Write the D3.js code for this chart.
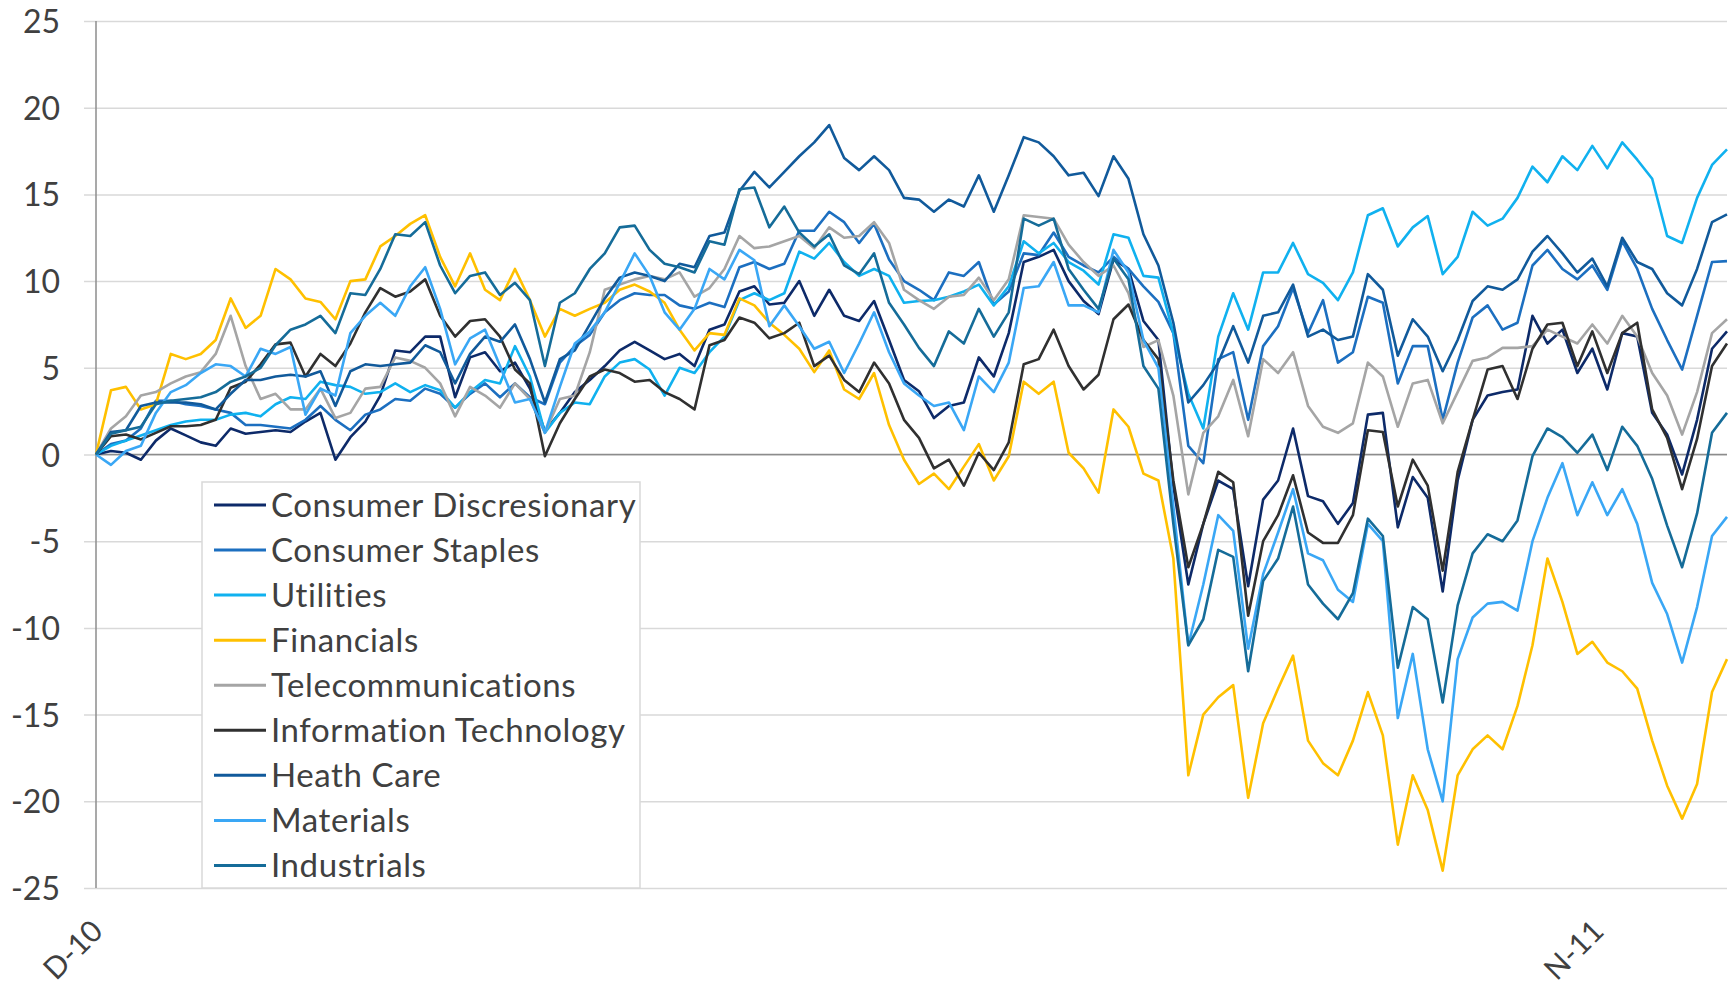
<!DOCTYPE html>
<html>
<head>
<meta charset="utf-8">
<script src="https://cdn.jsdelivr.net/npm/d3@7"></script>
<style>
	body { margin: 0; background: #fff; }
	svg text { font-family: Lato, "Open Sans", sans-serif; fill: #404040; }
</style>
</head>
<body>
<svg id="chart" width="1730" height="989"></svg>
<script>
const Width = 1730;
const Height = 989;

// first and last day of the series, points are spread evenly between them
const startDate = new Date(2010, 11, 1);
const endDate = new Date(2011, 10, 30);
const tickDates = [new Date(2010, 11, 1), new Date(2011, 10, 1)];
const tickLabels = ["D-10", "N-11"];
const yTicks = [-25, -20, -15, -10, -5, 0, 5, 10, 15, 20, 25];

const names = ["Consumer Discresionary", "Consumer Staples", "Utilities", "Financials", "Telecommunications", "Information Technology", "Heath Care", "Materials", "Industrials"];
const colors = ["#0d2a69", "#1c6fc0", "#10b1ef", "#ffc000", "#a5a5a5", "#303030", "#115a9b", "#3aa7f5", "#156c99"];

const consumerDiscretionary = [0, 0.2, 0.1, -0.3, 0.8, 1.5, 1.1, 0.7, 0.5, 1.5, 1.2, 1.3, 1.4, 1.3, 1.9, 2.4, -0.3, 1.0, 1.9, 3.4, 6.0, 5.9, 6.8, 6.8, 3.3, 5.6,
	5.9, 4.8, 5.3, 3.8, 1.35, 2.4, 3.6, 4.3, 5.1, 6.0, 6.5, 6.0, 5.5, 5.8, 5.1, 7.2, 7.5, 9.4, 9.7, 8.65, 8.75, 10.0, 8.0,
	9.5, 8.0, 7.7, 8.85, 6.6, 4.3, 3.65, 2.1, 2.8, 3.0, 5.6, 4.5, 7.0, 11.1, 11.4, 11.8, 10.0, 8.85, 8.1, 11.25, 10.7, 7.7, 6.6,
	-1.8, -7.5, -4.0, -1.5, -2.0, -7.6, -2.6, -1.5, 1.5, -2.4, -2.7, -4.0, -2.8, 2.3, 2.4, -4.2, -1.3, -2.5, -7.9,
	-1.5, 2.0, 3.4, 3.6, 3.75, 8.0, 6.4, 7.2, 4.7, 6.1, 3.75, 7.0, 6.8, 2.4, 1.15, -1.15, 2.0, 6.1, 7.1];
const consumerStaples = [0, 0.6, 0.8, 1.5, 3.1, 3.1, 2.9, 2.8, 2.6, 2.4, 1.7, 1.7, 1.6, 1.5, 2.0, 2.8, 2.0, 1.4, 2.3, 2.6, 3.2, 3.1, 3.8, 3.5, 2.7, 3.5,
	4.1, 3.3, 4.1, 3.3, 2.9, 5.3, 6.25, 6.9, 8.2, 8.9, 9.3, 9.2, 9.2, 8.6, 8.4, 8.75, 8.5, 10.8, 11.1, 10.7, 11.0, 12.9, 12.9,
	14.0, 13.4, 12.2, 13.3, 11.25, 10.0, 9.5, 8.9, 10.5, 10.3, 11.1, 8.65, 9.4, 11.6, 11.5, 12.8, 11.4, 10.9, 10.5, 11.4, 10.7, 9.7, 8.8,
	7.0, 0.5, -0.5, 5.5, 5.9, 2.0, 6.25, 7.4, 9.6, 7.0, 8.9, 5.3, 5.9, 9.1, 8.75, 4.1, 6.25, 6.25, 2.0,
	5.3, 7.9, 8.6, 7.2, 7.6, 10.9, 11.8, 10.7, 10.1, 10.9, 9.5, 12.3, 10.7, 8.4, 6.6, 4.9, 8.0, 11.1, 11.15];
const utilities = [0, 0.5, 0.8, 1.1, 1.4, 1.7, 1.9, 2.0, 2.0, 2.3, 2.4, 2.2, 2.9, 3.3, 3.2, 4.2, 4.0, 3.9, 3.5, 3.6, 4.1, 3.6, 4.0, 3.7, 2.7, 3.6,
	4.3, 4.1, 6.25, 4.5, 1.25, 2.4, 3.0, 2.9, 4.5, 5.3, 5.5, 4.9, 3.4, 5.0, 4.7, 5.9, 6.8, 8.9, 9.3, 8.9, 9.3, 11.7, 11.3,
	12.2, 11.1, 10.3, 10.7, 10.3, 8.75, 8.85, 8.9, 9.1, 9.4, 9.8, 8.6, 9.7, 12.3, 11.6, 12.2, 11.1, 10.6, 9.8, 12.7, 12.5, 10.3, 10.2,
	7.0, 3.5, 1.5, 6.8, 9.3, 7.2, 10.5, 10.5, 12.2, 10.4, 9.9, 8.9, 10.5, 13.8, 14.2, 12.0, 13.1, 13.75, 10.4,
	11.4, 14.0, 13.2, 13.6, 14.8, 16.6, 15.7, 17.2, 16.4, 17.8, 16.5, 18.0, 17.0, 15.9, 12.6, 12.2, 14.8, 16.7, 17.6];
const financials = [0, 3.7, 3.9, 2.6, 2.9, 5.8, 5.5, 5.8, 6.6, 9.0, 7.3, 8.0, 10.7, 10.1, 9.0, 8.8, 7.8, 10.0, 10.1, 12.0, 12.6, 13.3, 13.8, 11.4, 9.7, 11.6,
	9.5, 8.9, 10.7, 8.9, 6.8, 8.4, 8.0, 8.4, 8.75, 9.5, 9.8, 9.4, 8.75, 7.2, 6.0, 7.0, 6.9, 9.0, 8.6, 7.6, 6.9, 6.1, 4.75,
	6.0, 3.75, 3.2, 4.7, 1.7, -0.3, -1.7, -1.1, -2.0, -0.7, 0.6, -1.5, -0.1, 4.2, 3.5, 4.2, 0.1, -0.8, -2.2, 2.6, 1.6, -1.1, -1.5,
	-6.0, -18.5, -15.0, -14.0, -13.3, -19.8, -15.5, -13.5, -11.6, -16.5, -17.8, -18.5, -16.5, -13.7, -16.2, -22.5, -18.5, -20.5, -24.0,
	-18.5, -17.0, -16.2, -17.0, -14.5, -11.0, -6.0, -8.5, -11.5, -10.8, -12.0, -12.5, -13.5, -16.5, -19.1, -21.0, -19.0, -13.7, -11.8];
const telecommunications = [0, 1.5, 2.2, 3.4, 3.6, 4.1, 4.5, 4.75, 5.8, 8.0, 5.1, 3.2, 3.5, 2.6, 2.6, 3.8, 2.1, 2.4, 3.8, 3.9, 5.6, 5.4, 5.0, 4.1, 2.2, 3.9,
	3.4, 2.7, 4.1, 3.2, 1.25, 3.2, 3.4, 5.9, 9.5, 9.8, 10.1, 10.3, 10.1, 10.5, 9.1, 9.6, 10.7, 12.6, 11.9, 12.0, 12.3, 12.6, 11.9,
	13.1, 12.5, 12.6, 13.4, 12.2, 9.5, 8.9, 8.4, 9.1, 9.2, 10.2, 8.9, 10.1, 13.8, 13.7, 13.6, 12.1, 11.1, 10.3, 10.9, 9.3, 6.2, 6.6,
	3.4, -2.3, 1.25, 2.2, 4.3, 1.05, 5.5, 4.7, 5.9, 2.8, 1.6, 1.25, 1.8, 5.3, 4.5, 1.6, 4.1, 4.3, 1.8,
	3.6, 5.4, 5.6, 6.15, 6.15, 6.25, 7.2, 6.8, 6.4, 7.5, 6.4, 8.0, 6.8, 4.7, 3.4, 1.15, 3.6, 7.0, 7.8];
const informationTechnology = [0, 1.05, 1.15, 0.87, 1.25, 1.63, 1.63, 1.7, 2.0, 3.85, 4.2, 5.2, 6.35, 6.45, 4.5, 5.8, 5.1, 6.4, 8.2, 9.6, 9.1, 9.4, 10.1, 8.0, 6.8, 7.7,
	7.8, 6.8, 4.9, 4.1, -0.1, 1.8, 3.2, 4.5, 4.9, 4.7, 4.2, 4.3, 3.6, 3.2, 2.6, 6.3, 6.6, 7.9, 7.6, 6.7, 7.0, 7.6, 5.1,
	5.7, 4.3, 3.6, 5.3, 4.1, 2.0, 0.96, -0.8, -0.3, -1.8, 0.1, -0.9, 0.7, 5.2, 5.5, 7.2, 5.1, 3.75, 4.6, 7.8, 8.65, 6.6, 5.5,
	-1.5, -6.5, -4.0, -1.0, -1.6, -9.3, -5.0, -3.5, -1.2, -4.5, -5.1, -5.1, -3.5, 1.4, 1.3, -3.0, -0.3, -1.8, -6.7,
	-1.0, 2.0, 4.9, 5.1, 3.2, 6.1, 7.5, 7.6, 5.1, 7.1, 4.7, 7.0, 7.6, 2.6, 0.96, -2.0, 0.9, 5.1, 6.4];
const healthCare = [0, 1.3, 1.4, 2.8, 3.0, 3.0, 3.0, 2.9, 2.6, 3.5, 4.3, 4.3, 4.5, 4.6, 4.5, 4.8, 2.8, 4.8, 5.2, 5.1, 5.2, 5.3, 6.3, 5.9, 4.1, 5.8,
	6.8, 6.5, 7.5, 5.5, 3.0, 5.5, 6.0, 7.5, 9.0, 10.2, 10.5, 10.3, 10.0, 11.0, 10.8, 12.6, 12.8, 15.2, 16.3, 15.4, 16.3, 17.2, 18.0,
	19.0, 17.1, 16.4, 17.2, 16.4, 14.8, 14.7, 14.0, 14.7, 14.3, 16.1, 14.0, 16.1, 18.3, 18.0, 17.2, 16.1, 16.25, 14.9, 17.2, 15.9, 12.7, 10.9,
	7.6, 3.0, 4.0, 5.3, 7.4, 5.3, 8.0, 8.2, 9.8, 6.8, 7.2, 6.6, 6.8, 10.4, 9.5, 5.7, 7.8, 6.8, 4.8,
	6.6, 8.85, 9.7, 9.5, 10.1, 11.7, 12.6, 11.6, 10.5, 11.3, 9.7, 12.5, 11.1, 10.7, 9.3, 8.6, 10.7, 13.4, 13.85];
const materials = [0, -0.6, 0.2, 0.5, 2.4, 3.6, 4.0, 4.7, 5.2, 5.1, 4.5, 6.1, 5.8, 6.2, 2.3, 3.8, 3.4, 7.0, 8.0, 8.75, 8.0, 9.7, 10.8, 8.4, 5.2, 6.7,
	7.2, 5.1, 3.0, 3.2, 1.25, 3.9, 6.4, 7.1, 8.2, 9.9, 11.6, 10.3, 8.2, 7.2, 8.4, 10.7, 10.1, 11.8, 11.2, 7.4, 8.6, 7.4, 6.1,
	6.5, 4.7, 6.4, 8.2, 5.9, 4.1, 3.4, 2.8, 3.0, 1.4, 4.5, 3.6, 5.3, 9.6, 9.7, 11.1, 8.6, 8.6, 8.2, 11.8, 10.5, 6.6, 5.0,
	-3.0, -11.0, -7.5, -3.5, -4.4, -11.2, -6.9, -4.5, -2.0, -5.7, -6.1, -7.8, -8.5, -4.0, -5.0, -15.2, -11.5, -17.0, -20.0,
	-11.8, -9.4, -8.6, -8.5, -9.0, -5.0, -2.5, -0.5, -3.5, -1.6, -3.5, -2.0, -4.0, -7.4, -9.2, -12.0, -8.8, -4.7, -3.6];
const industrials = [0, 1.2, 1.4, 1.6, 2.9, 3.1, 3.2, 3.3, 3.6, 4.2, 4.5, 5.0, 6.3, 7.2, 7.5, 8.0, 7.0, 9.3, 9.2, 10.7, 12.7, 12.6, 13.4, 10.9, 9.3, 10.3,
	10.5, 9.2, 9.9, 8.9, 5.1, 8.75, 9.3, 10.7, 11.6, 13.1, 13.2, 11.8, 11.0, 10.8, 10.5, 12.3, 12.1, 15.3, 15.4, 13.1, 14.3, 12.8, 12.0,
	12.7, 10.9, 10.4, 11.6, 8.75, 7.5, 6.15, 5.1, 7.1, 6.4, 8.4, 6.8, 8.2, 13.6, 13.2, 13.6, 10.7, 9.5, 8.4, 11.3, 10.1, 5.1, 3.8,
	-4.0, -11.0, -9.5, -5.5, -5.9, -12.5, -7.3, -6.0, -3.0, -7.5, -8.6, -9.5, -8.0, -3.7, -4.7, -12.3, -8.8, -9.5, -14.3,
	-8.7, -5.7, -4.6, -5.0, -3.8, -0.1, 1.5, 1.0, 0.1, 1.15, -0.9, 1.6, 0.5, -1.4, -4.1, -6.5, -3.4, 1.25, 2.4];

const seriesValues = [consumerDiscretionary, consumerStaples, utilities, financials, telecommunications, informationTechnology, healthCare, materials, industrials];

// plot area
const plotLeft = 96, plotRight = 1727, plotTop = 21, plotBottom = 888;

const chart = d3.select("#chart");
chart.append("rect").attr("width", Width).attr("height", Height).attr("fill", "#fff");

const x = d3.scaleTime().domain([startDate, endDate]).range([plotLeft, plotRight]);
const y = d3.scaleLinear().domain([-25, 25]).range([plotBottom, plotTop]);

// gridlines with the little tick stubs on the left of the axis
const grid = chart.append("g").attr("transform", `translate(${plotLeft},0)`)
	.call(d3.axisLeft(y).tickValues(yTicks).tickSize(plotLeft - plotRight).tickSizeOuter(0).tickFormat(""));
grid.select(".domain").remove();
grid.selectAll("line").attr("x1", -12).attr("stroke", "#d9d9d9").attr("stroke-width", 1.5);

// y labels
const yaxis = chart.append("g").attr("transform", `translate(${plotLeft},0)`)
	.call(d3.axisLeft(y).tickValues(yTicks).tickSize(0).tickPadding(36).tickFormat(d => String(d)));
yaxis.select(".domain").remove();
yaxis.selectAll("text").attr("font-size", 32).attr("fill", "#404040").attr("dy", "0.36em");

// vertical axis line and the zero line
chart.append("line").attr("x1", plotLeft).attr("x2", plotLeft).attr("y1", plotTop).attr("y2", plotBottom)
	.attr("stroke", "#8c8c8c").attr("stroke-width", 1.5);
chart.append("line").attr("x1", plotLeft).attr("x2", plotRight).attr("y1", y(0)).attr("y2", y(0))
	.attr("stroke", "#8c8c8c").attr("stroke-width", 1.5);

// x labels, rotated like the original
const xaxis = chart.append("g").attr("transform", `translate(0,${plotBottom})`)
	.call(d3.axisBottom(x).tickValues(tickDates).tickSize(0).tickFormat((d, i) => tickLabels[i]));
xaxis.select(".domain").remove();
xaxis.selectAll("text")
	.attr("font-size", 30).attr("fill", "#404040")
	.attr("text-anchor", "end").attr("y", 0).attr("dy", 0)
	.attr("transform", "translate(8,45) rotate(-45)");

// series, first in legend order is drawn first
const n = consumerDiscretionary.length;
const step = (endDate - startDate) / (n - 1);
const line = d3.line()
	.x((d, i) => x(new Date(+startDate + i * step)))
	.y(d => y(d));

chart.append("g").selectAll("path").data(seriesValues).enter().append("path")
	.attr("d", line)
	.attr("fill", "none")
	.attr("stroke", (d, i) => colors[i])
	.attr("stroke-width", 2.6)
	.attr("stroke-linejoin", "round");

// legend box
const legend = chart.append("g");
legend.append("rect").attr("x", 202).attr("y", 482).attr("width", 438).attr("height", 406)
	.attr("fill", "#fff").attr("stroke", "#d9d9d9").attr("stroke-width", 1.5);
const rows = legend.selectAll("g.row").data(names).enter().append("g").attr("class", "row")
	.attr("transform", (d, i) => `translate(0,${505 + i * 45.06})`);
rows.append("line").attr("x1", 214).attr("x2", 266)
	.attr("stroke", (d, i) => colors[i]).attr("stroke-width", 3);
rows.append("text").attr("x", 271).attr("dy", "0.36em").attr("font-size", 33)
	.attr("letter-spacing", 0.6).text(d => d);
</script>
</body>
</html>
